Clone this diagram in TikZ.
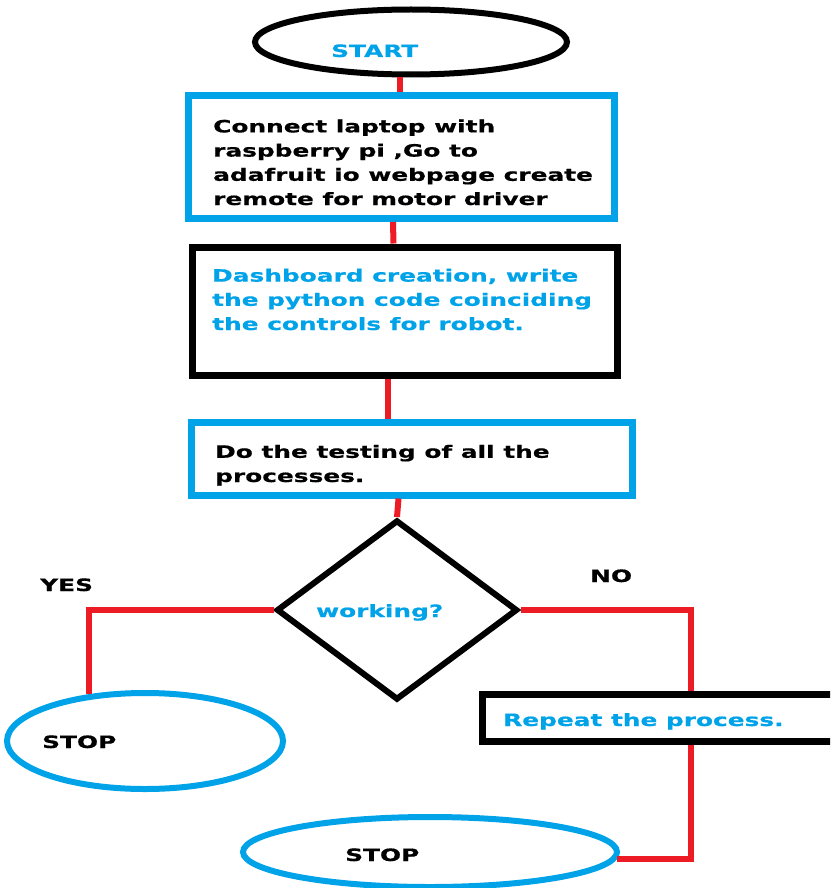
\documentclass[tikz,border=0pt]{standalone}
\usepackage{fontspec}
\setmainfont{DejaVu Sans}[FakeStretch=1.46,BoldFeatures={FakeBold=0.6}]
\usetikzlibrary{shapes.geometric}
\definecolor{paintblue}{RGB}{0,162,232}
\definecolor{paintred}{RGB}{237,28,36}
\begin{document}
\begin{tikzpicture}[x=1pt,y=-1pt,
	blk/.style={draw,rectangle,line width=7pt,inner sep=0pt},
	term/.style={draw=paintblue,ellipse,line width=6pt,inner sep=0pt},
	dec/.style={draw,diamond,line width=6pt,inner sep=0pt},
	wire/.style={draw=paintred,line width=6pt},
	txt/.style={font=\bfseries\fontsize{17}{24.2}\selectfont,align=left,inner sep=0pt,anchor=base west}]
	\useasboundingbox (0,0) rectangle (830,888);
	\clip (0,0) rectangle (830,888);
	% shapes
	\node[term,draw=black,minimum width=312pt,minimum height=65pt] (start) at (411,42) {};
	\node[blk,draw=paintblue,minimum width=426pt,minimum height=123pt] (box1) at (401,157) {};
	\node[blk,minimum width=425pt,minimum height=128pt] (box2) at (404.5,311) {};
	\node[blk,draw=paintblue,minimum width=441pt,minimum height=73pt] (box3) at (411.5,458.5) {};
	\node[dec,minimum width=241pt,minimum height=180pt] (test) at (397,610) {};
	\node[term,minimum width=276pt,minimum height=96pt] (stop1) at (145,741) {};
	\node[blk,minimum width=418pt,minimum height=47pt] (box4) at (691,717.5) {};
	\node[term,minimum width=374pt,minimum height=70pt] (stop2) at (430,852) {};
	% texts (base of last line)
	\node[txt,text=paintblue] (tstart) at (331,57) {START};
	\node[txt] (t1) at (213,205) {Connect laptop with\\raspberry pi ,Go to\\adafruit io webpage create\\remote for motor driver};
	\node[txt,text=paintblue] (t2) at (212,330) {Dashboard creation, write\\the python code coinciding\\the controls for robot.};
	\node[txt] (t3) at (215,482) {Do the testing of all the\\processes.};
	\node[txt,text=paintblue] (ttest) at (316,617) {working?};
	\node[txt] (yes) at (40,591) {YES};
	\node[txt] (no) at (590,582) {NO};
	\node[txt] (tstop1) at (42,748) {STOP};
	\node[txt,text=paintblue] (t4) at (503,726) {Repeat the process.};
	\node[txt] (tstop2) at (345,861) {STOP};
	% links
	\draw[wire] ([xshift=-11pt]start.south) -- ([xshift=-1pt]box1.north);
	\draw[wire] ([xshift=-8pt]box1.south) -- ([xshift=-11pt]box2.north);
	\draw[wire] ([xshift=-17pt]box2.south) -- ([xshift=-24pt]box3.north);
	\draw[wire] ([xshift=-13pt]box3.south) -- (test.north);
	\draw[wire] (test.west) -| (stop1.140);
	\draw[wire] (test.east) -| (box4.north);
	\draw[wire] (box4.south) |- (stop2.-2.5);
\end{tikzpicture}
\end{document}
